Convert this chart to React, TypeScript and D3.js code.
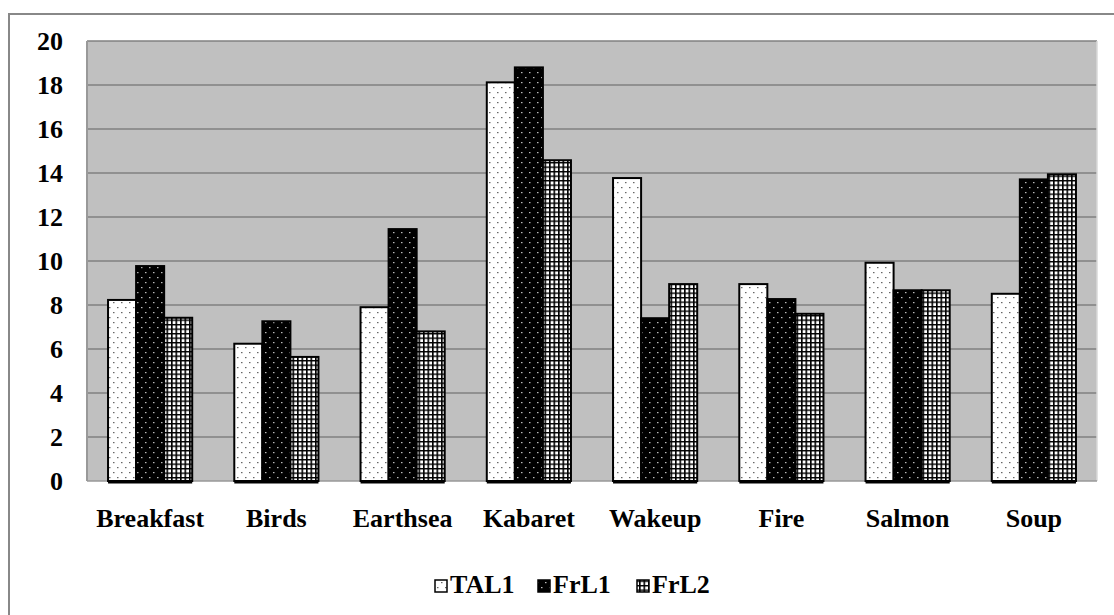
import React from "react";
import * as d3 from "d3";

const categories = ["Breakfast", "Birds", "Earthsea", "Kabaret", "Wakeup", "Fire", "Salmon", "Soup"];
const seriesNames = ["TAL1", "FrL1", "FrL2"];
const tal1 = [8.23, 6.24, 7.9, 18.12, 13.77, 8.95, 9.92, 8.51];
const frl1 = [9.77, 7.26, 11.45, 18.8, 7.4, 8.27, 8.67, 13.71];
const frl2 = [7.42, 5.64, 6.8, 14.58, 8.95, 7.6, 8.67, 13.94];
const yTicks = [0, 2, 4, 6, 8, 10, 12, 14, 16, 18, 20];

const W = 1114;
const H = 615;
const plot = { left: 87, right: 1097, top: 41, bottom: 481 };
const textStyle: React.CSSProperties = {
  fontFamily: "Liberation Serif, Tinos, Times New Roman, DejaVu Serif, serif",
  fontWeight: 700,
  fontSize: "26px",
};

export default function App() {
  const series = [tal1, frl1, frl2];
  // Excel gap width 150%: group = 3 bars, gap = 1.5 bars
  const catW = (plot.right - plot.left) / categories.length;
  const barW = catW / 4.5;
  const x1 = d3.scaleBand<string>().domain(seriesNames).range([0, barW * 3]);
  const y = d3.scaleLinear().domain([0, 20]).range([plot.bottom, plot.top]);
  const catStart = (i: number) => plot.left + i * catW + barW * 0.75;
  const fills = ["url(#pTAL1)", "url(#pFrL1)", "url(#pFrL2)"];
  const legendX = [435, 538, 637];

  return (
    <svg width={W} height={H} style={{ position: "absolute", left: 0, top: 0, background: "#fff" }}>
      <defs>
        <pattern id="pTAL1" width="8" height="10" patternUnits="userSpaceOnUse">
          <rect width="8" height="10" fill="#fff" />
          <rect x="1" y="2" width="1.5" height="1.2" fill="#666" />
          <rect x="5" y="7" width="1.5" height="1.2" fill="#666" />
        </pattern>
        <pattern id="pFrL1" width="8" height="10" patternUnits="userSpaceOnUse">
          <rect width="8" height="10" fill="#000" />
          <rect x="1" y="2" width="1.5" height="1.2" fill="#bbb" />
          <rect x="5" y="7" width="1.5" height="1.2" fill="#bbb" />
        </pattern>
        <pattern id="pFrL2" width="4.5" height="4.5" patternUnits="userSpaceOnUse">
          <rect width="4.5" height="4.5" fill="#fff" />
          <rect x="0" y="0" width="1.6" height="4.5" fill="#000" />
          <rect x="0" y="0" width="4.5" height="1.4" fill="#000" />
        </pattern>
      </defs>
      {/* outer border */}
      <rect x={9} y={14} width={W} height={H} fill="none" stroke="#888" strokeWidth={2} />
      {/* plot background */}
      <rect x={plot.left} y={plot.top} width={plot.right - plot.left} height={plot.bottom - plot.top} fill="#c0c0c0" />
      {yTicks.filter((t) => t > 0 && t < 20).map((t) => (
        <line key={t} x1={plot.left} x2={plot.right} y1={y(t)} y2={y(t)} stroke="#808080" strokeWidth={1.5} />
      ))}
      <line x1={plot.left} x2={plot.right} y1={plot.top} y2={plot.top} stroke="#808080" strokeWidth={1.5} />
      <line x1={plot.left} x2={plot.left} y1={plot.top} y2={plot.bottom} stroke="#999" strokeWidth={2} />
      <line x1={plot.right} x2={plot.right} y1={plot.top} y2={plot.bottom} stroke="#d8d8d8" strokeWidth={1.5} />
      <line x1={plot.left} x2={plot.right} y1={plot.bottom} y2={plot.bottom} stroke="#999" strokeWidth={1.5} />
      {/* bars */}
      {categories.map((c, i) => (
        <g key={c}>
          {series.map((s, j) => (
            <rect
              key={j}
              x={catStart(i) + (x1(seriesNames[j]) as number)}
              y={y(s[i])}
              width={x1.bandwidth()}
              height={plot.bottom - y(s[i])}
              fill={fills[j]}
              stroke="#000"
              strokeWidth={2}
            />
          ))}
          <line
            x1={catStart(i)}
            x2={catStart(i) + barW * 3}
            y1={plot.bottom + 1}
            y2={plot.bottom + 1}
            stroke="#000"
            strokeWidth={3}
          />
        </g>
      ))}
      {/* y tick labels */}
      {yTicks.map((t) => (
        <text key={t} x={63} y={y(t) + 9} textAnchor="end" style={textStyle} fill="#000">
          {t}
        </text>
      ))}
      {/* x labels */}
      {categories.map((c, i) => (
        <text key={c} x={plot.left + i * catW + catW / 2} y={527} textAnchor="middle" style={textStyle} fill="#000">
          {c}
        </text>
      ))}
      {/* legend */}
      {seriesNames.map((n, j) => (
        <g key={n}>
          <rect x={legendX[j]} y={580} width={12} height={12} fill={fills[j]} stroke="#000" strokeWidth={1.5} />
          <text x={legendX[j] + 15} y={593} style={textStyle} fill="#000">
            {n}
          </text>
        </g>
      ))}
    </svg>
  );
}
